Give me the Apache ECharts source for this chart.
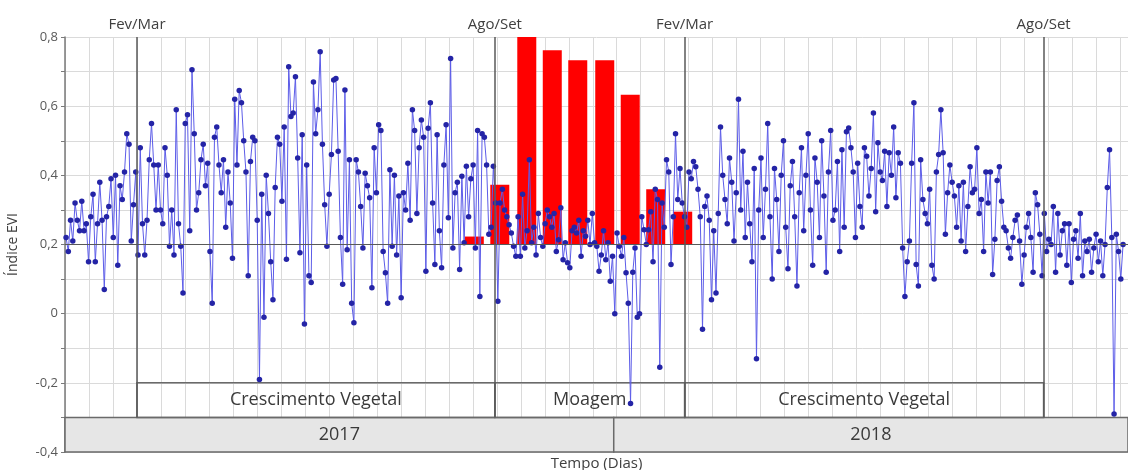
<!DOCTYPE html>
<html>
<head>
<meta charset="utf-8">
<script src="https://cdn.jsdelivr.net/npm/echarts@6/dist/echarts.min.js"></script>
<style>
  html, body { margin: 0; background: #fff; }
  #grafico { width: 1128px; height: 470px; }
</style>
</head>
<body>
<div id="grafico"></div>
<script>
// série EVI: um valor a cada 1,5 dia a partir do dia 0,7
const diaInicial = 0.7;
const passo = 1.5;
const evi = [
  0.22, 0.18, 0.27, 0.21, 0.32, 0.27, 0.24, 0.325, 0.24, 0.26, 0.15, 0.28, 0.345, 0.15, 0.26, 0.38, 0.27, 0.07, 0.28, 0.31,
  0.39, 0.22, 0.40, 0.14, 0.37, 0.33, 0.41, 0.52, 0.49, 0.21, 0.315, 0.41, 0.17, 0.48, 0.26, 0.17, 0.27, 0.445, 0.55, 0.43, 0.30,
  0.43, 0.30, 0.26, 0.48, 0.40, 0.195, 0.30, 0.17, 0.59, 0.26, 0.195, 0.06, 0.55, 0.575, 0.24, 0.705, 0.52, 0.30, 0.35, 0.445,
  0.49, 0.37, 0.435, 0.18, 0.03, 0.51, 0.54, 0.43, 0.35, 0.445, 0.25, 0.41, 0.32, 0.16, 0.62, 0.43, 0.645, 0.61, 0.50, 0.41, 0.11, 0.44, 0.51,
  0.50, 0.27, -0.19, 0.345, -0.01, 0.40, 0.29, 0.15, 0.04, 0.365, 0.51, 0.49, 0.325, 0.54, 0.157, 0.714, 0.57, 0.58, 0.685, 0.45,
  0.176, 0.517, -0.03, 0.43, 0.11, 0.09, 0.67, 0.52, 0.59, 0.757, 0.49, 0.315, 0.195, 0.345, 0.46, 0.676, 0.68, 0.47, 0.22, 0.085, 0.647, 0.185, 0.445,
  0.03, -0.026, 0.445, 0.41, 0.31, 0.19, 0.406, 0.37, 0.335, 0.075, 0.48, 0.35, 0.546, 0.53, 0.18, 0.118, 0.03, 0.416, 0.195, 0.40,
  0.17, 0.34, 0.046, 0.35, 0.30, 0.435, 0.27, 0.59, 0.53, 0.29, 0.48, 0.56, 0.51, 0.123, 0.536, 0.61, 0.32, 0.142, 0.517, 0.24, 0.133, 0.43, 0.546,
  0.277, 0.738, 0.19, 0.35, 0.38, 0.128, 0.397, 0.205, 0.426, 0.28, 0.39, 0.43, 0.19, 0.53, 0.05, 0.52, 0.51, 0.43, 0.23, 0.25,
  0.426, 0.32, 0.036, 0.32, 0.36, 0.30, 0.28, 0.257, 0.233, 0.195, 0.166, 0.28, 0.166, 0.345, 0.19, 0.24, 0.445, 0.205, 0.25, 0.17, 0.29, 0.22, 0.195,
  0.26, 0.30, 0.28, 0.25, 0.29, 0.18, 0.214, 0.306, 0.156, 0.205, 0.147, 0.133, 0.24, 0.25, 0.233, 0.27, 0.166, 0.24, 0.224, 0.27,
  0.20, 0.29, 0.205, 0.195, 0.123, 0.17, 0.24, 0.156, 0.205, 0.094, 0.166, 0.0, 0.233, 0.195, 0.166, 0.22, 0.118, 0.03, -0.26, 0.12, 0.19, -0.01, 0.0,
  0.28, 0.243, 0.20, 0.243, 0.295, 0.15, 0.36, 0.33, -0.155, 0.32, 0.25, 0.445, 0.41, 0.142, 0.28, 0.52, 0.33, 0.42, 0.32, 0.28,
  0.25, 0.41, 0.39, 0.44, 0.425, 0.36, 0.28, -0.045, 0.31, 0.34, 0.27, 0.04, 0.24, 0.06, 0.29, 0.54, 0.40, 0.33, 0.26, 0.45, 0.38, 0.21, 0.35,
  0.62, 0.30, 0.47, 0.22, 0.38, 0.26, 0.15, 0.42, -0.13, 0.30, 0.45, 0.22, 0.36, 0.55, 0.28, 0.10, 0.42, 0.33, 0.18, 0.40,
  0.50, 0.25, 0.13, 0.37, 0.44, 0.28, 0.08, 0.35, 0.48, 0.24, 0.40, 0.52, 0.30, 0.14, 0.45, 0.38, 0.22, 0.50, 0.34, 0.12, 0.41, 0.53, 0.27,
  0.30, 0.44, 0.18, 0.474, 0.25, 0.526, 0.537, 0.48, 0.41, 0.22, 0.435, 0.31, 0.25, 0.48, 0.455, 0.34, 0.42, 0.58, 0.295, 0.494,
  0.41, 0.385, 0.47, 0.31, 0.465, 0.40, 0.54, 0.335, 0.465, 0.435, 0.19, 0.05, 0.15, 0.21, 0.435, 0.61, 0.142, 0.08, 0.445, 0.33, 0.29, 0.26, 0.36,
  0.14, 0.10, 0.41, 0.46, 0.59, 0.465, 0.23, 0.35, 0.43, 0.38, 0.34, 0.25, 0.37, 0.21, 0.38, 0.18, 0.31, 0.425, 0.35, 0.36,
  0.48, 0.29, 0.33, 0.18, 0.41, 0.32, 0.41, 0.113, 0.215, 0.385, 0.425, 0.325, 0.25, 0.24, 0.19, 0.16, 0.22, 0.27, 0.285, 0.21, 0.085, 0.17, 0.25,
  0.29, 0.22, 0.12, 0.35, 0.315, 0.23, 0.11, 0.29, 0.18, 0.215, 0.20, 0.31, 0.12, 0.29, 0.17, 0.24, 0.26, 0.14, 0.26, 0.09,
  0.215, 0.24, 0.16, 0.29, 0.11, 0.21, 0.18, 0.215, 0.12, 0.19, 0.23, 0.15, 0.21, 0.11, 0.20, 0.365, 0.474, 0.22, -0.29, 0.23, 0.18, 0.10, 0.20
];

// barras vermelhas (período de moagem), partindo de 0,2
const diasBarras = [273, 290, 308, 325, 342, 360, 377, 394, 412];
const topoBarras = [0.223, 0.373, 0.80, 0.762, 0.733, 0.733, 0.633, 0.36, 0.295];
const baseBarras = 0.2;

// marcos e faixas
const marcos = [['Fev/Mar', 48], ['Ago/Set', 286.7], ['Fev/Mar', 413.3], ['Ago/Set', 652.7]];
const fases = [['Crescimento Vegetal', 48, 286.7], ['Moagem', 286.7, 413.3], ['Crescimento Vegetal', 413.3, 652.7]];
const anos = [['2017', 0, 366], ['2018', 366, 709]];

const fonte = '"Open Sans", "Noto Sans", sans-serif';
const cinzaEscuro = '#595959';
const larguraBarra = 19;

const chart = echarts.init(document.getElementById('grafico'));

const linhasMarcos = marcos.map(([nome, dia]) => [
  { coord: [dia, -0.3] },
  { coord: [dia, 0.8], name: nome }
]);

const option = {
  animation: false,
  textStyle: { fontFamily: fonte },
  grid: { left: 65, right: 0, top: 37, bottom: 18, outerBoundsMode: 'none' },
  xAxis: {
    type: 'value',
    min: 0,
    max: 709,
    interval: 16,
    name: 'Tempo (Dias)',
    nameLocation: 'middle',
    nameGap: 4,
    nameTextStyle: { color: '#404040', fontSize: 15, verticalAlign: 'top' },
    axisLine: { show: false },
    axisTick: { show: false },
    axisLabel: { show: false },
    splitLine: { show: true, lineStyle: { color: '#dadada', width: 1 } }
  },
  yAxis: {
    type: 'value',
    min: -0.4,
    max: 0.8,
    interval: 0.1,
    name: 'Índice EVI',
    nameLocation: 'middle',
    nameGap: 45,
    nameTextStyle: { color: '#404040', fontSize: 14 },
    axisLine: { show: true, lineStyle: { color: '#7a7a7a', width: 1.5 } },
    axisTick: { show: true, length: 4, lineStyle: { color: '#7a7a7a' } },
    axisLabel: {
      color: cinzaEscuro,
      fontSize: 13,
      margin: 7,
      formatter: v => {
        const d = Math.round(v * 10);
        if (d % 2 !== 0) return '';
        return String(d / 10).replace('.', ',');
      }
    },
    splitLine: { show: true, lineStyle: { color: '#dadada', width: 1 } }
  },
  series: [
    {
      // faixas de fase/ano, linhas de marco e referência 0,2
      name: 'marcos',
      type: 'line',
      z: 1,
      silent: true,
      data: [],
      markArea: {
        silent: true,
        data: anos.map(([nome, a, b]) => [
          { name: nome, xAxis: a, yAxis: -0.3,
            itemStyle: { color: '#e6e6e6', borderColor: '#6a6a6a', borderWidth: 1.5 } },
          { xAxis: b, yAxis: -0.4 }
        ]).concat(fases.map(([nome, a, b]) => [
          { name: nome, xAxis: a, yAxis: -0.2,
            itemStyle: { color: 'rgba(255,255,255,0)', borderColor: '#6a6a6a', borderWidth: 1.5 } },
          { xAxis: b, yAxis: -0.3 }
        ])),
        label: { show: true, position: 'inside', color: '#3a3a3a', fontSize: 18, fontFamily: fonte }
      },
      markLine: {
        silent: true,
        symbol: 'none',
        data: [
          { yAxis: 0.2, label: { show: false }, lineStyle: { color: cinzaEscuro, width: 1.2, type: 'solid' } }
        ].concat(linhasMarcos),
        lineStyle: { color: cinzaEscuro, width: 1.5, type: 'solid' },
        label: {
          show: true,
          position: 'end',
          distance: 5,
          formatter: p => p.name,
          color: '#404040',
          fontSize: 15,
          fontFamily: fonte
        }
      }
    },
    {
      name: 'Moagem',
      type: 'custom',
      z: 2,
      data: diasBarras.map((d, i) => [d, topoBarras[i]]),
      renderItem: (params, api) => {
        const topo = api.coord([api.value(0), api.value(1)]);
        const base = api.coord([api.value(0), baseBarras]);
        return {
          type: 'rect',
          shape: { x: topo[0] - larguraBarra / 2, y: topo[1], width: larguraBarra, height: base[1] - topo[1] },
          style: { fill: '#ff0000' }
        };
      }
    },
    {
      name: 'EVI',
      type: 'line',
      z: 4,
      symbol: 'circle',
      symbolSize: 5.5,
      showAllSymbol: true,
      itemStyle: { color: '#2424a6' },
      lineStyle: { color: '#5c5ce8', width: 1 },
      data: evi.map((v, i) => [diaInicial + i * passo, v])
    }
  ]
};

chart.setOption(option);
</script>
</body>
</html>
